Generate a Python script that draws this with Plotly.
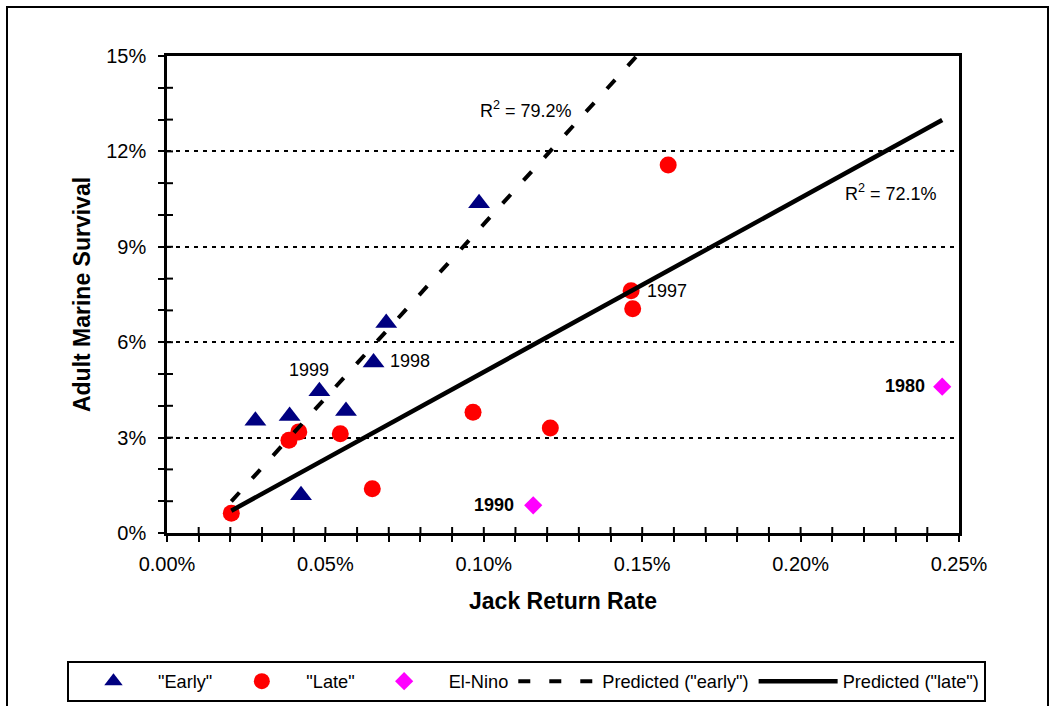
import numpy as np
import plotly.graph_objects as go

# ---- data (percent units) ----
early_x = [0.0279, 0.0387, 0.0481, 0.0565, 0.0423, 0.0652, 0.0692, 0.0985]
early_y = [3.53, 3.68, 4.46, 3.84, 1.19, 5.36, 6.60, 10.37]

late_x = [0.0203, 0.0385, 0.0416, 0.0547, 0.0648, 0.0966, 0.1210, 0.1465, 0.1470, 0.1582]
late_y = [0.62, 2.92, 3.18, 3.12, 1.39, 3.80, 3.30, 7.62, 7.05, 11.57]

nino_x = [0.1156, 0.2447]
nino_y = [0.87, 4.60]
nino_labels = ["1990", "1980"]

x_ticks = [0.00, 0.05, 0.10, 0.15, 0.20, 0.25]
x_tick_labels = ["0.00%", "0.05%", "0.10%", "0.15%", "0.20%", "0.25%"]
y_ticks = [0, 3, 6, 9, 12, 15]
y_tick_labels = ["0%", "3%", "6%", "9%", "12%", "15%"]
x_minor_step = 0.01
y_minor_step = 1

r2_early_text = "R<sup>2</sup> = 79.2%"
r2_late_text = "R<sup>2</sup> = 72.1%"

FONT = "Liberation Sans, Arial, sans-serif"

W, H = 1050, 706
ML, MR, MT, MB = 167, 91, 56, 173
PW, PH = W - ML - MR, H - MT - MB
TICK = 6

# regression (predicted) lines over full x span of the data
all_x = early_x + late_x + nino_x
xs = np.array([min(all_x), max(all_x)])
be, ae = np.polyfit(early_x, early_y, 1)
bl, al = np.polyfit(late_x, late_y, 1)

fig = go.Figure()
fig.add_trace(go.Scatter(x=early_x, y=early_y, mode="markers", name='"Early"',
                         marker=dict(symbol="triangle-up", size=19, color="#000080")))
fig.add_trace(go.Scatter(x=late_x, y=late_y, mode="markers", name='"Late"',
                         marker=dict(symbol="circle", size=17, color="#FF0000")))
fig.add_trace(go.Scatter(x=nino_x, y=nino_y, mode="markers", name="El-Nino",
                         marker=dict(symbol="diamond", size=14, color="#FF00FF")))
fig.add_trace(go.Scatter(x=xs, y=be * xs + ae, mode="lines", name='Predicted ("early")',
                         line=dict(color="black", width=4, dash="12px,19px")))
fig.add_trace(go.Scatter(x=xs, y=bl * xs + al, mode="lines", name='Predicted ("late")',
                         line=dict(color="black", width=4.5)))

tickfont = dict(family=FONT, size=20, color="black")
axis_common = dict(showline=True, linecolor="black", linewidth=2.5, zeroline=False,
                   ticks="outside", ticklen=TICK, tickwidth=2, tickcolor="black",
                   tickfont=tickfont, tickmode="array")

fig.update_layout(
    width=W, height=H,
    margin=dict(l=ML, r=MR, t=MT, b=MB, autoexpand=False),
    paper_bgcolor="white", plot_bgcolor="white",
    font=dict(family=FONT, color="black"),
    xaxis=dict(**axis_common, range=[0, 0.25], tickvals=x_ticks, ticktext=x_tick_labels,
               mirror=True, showgrid=False, ticklabelstandoff=5,
               minor=dict(ticks="outside", dtick=x_minor_step, ticklen=TICK, tickwidth=2,
                          tickcolor="black"),
               title=dict(text="Jack Return Rate", standoff=20,
                          font=dict(family=FONT, size=23, weight="bold", color="black"))),
    yaxis=dict(**axis_common, range=[0, 15], tickvals=y_ticks, ticktext=y_tick_labels,
               mirror=True, showgrid=True, gridcolor="black", gridwidth=2,
               griddash="4px,5px", ticklabelstandoff=8,
               minor=dict(ticks="outside", dtick=y_minor_step, ticklen=TICK, tickwidth=2,
                          tickcolor="black"),
               title=dict(text="Adult Marine Survival", standoff=10,
                          font=dict(family=FONT, size=23, weight="bold", color="black"))),
    legend=dict(orientation="h", x=-0.1263, xanchor="left", y=-0.268, yanchor="top",
                bordercolor="black", borderwidth=2, bgcolor="white",
                font=dict(family=FONT, size=18.2, color="black"),
                itemwidth=79, traceorder="normal"),
    showlegend=True,
)

ann_font = dict(family=FONT, size=18, color="black")
bold_font = dict(family=FONT, size=18, color="black", weight="bold")
annotations = [
    dict(x=0.1133, y=13.31, text=r2_early_text, showarrow=False, font=ann_font),
    dict(x=0.2285, y=10.72, text=r2_late_text, showarrow=False, font=ann_font),
    dict(x=late_x[7], y=late_y[7], text="1997", showarrow=False, font=ann_font,
         xanchor="left", xshift=14),
    dict(x=early_x[5], y=early_y[5], text="1998", showarrow=False, font=ann_font,
         xanchor="left", xshift=14, yshift=2),
    dict(x=early_x[2], y=early_y[2], text="1999", showarrow=False, font=ann_font,
         xanchor="center", xshift=-10, yshift=21),
    dict(x=nino_x[0], y=nino_y[0], text=nino_labels[0], showarrow=False, font=bold_font,
         xanchor="right", xshift=-17),
    dict(x=nino_x[1], y=nino_y[1], text=nino_labels[1], showarrow=False, font=bold_font,
         xanchor="right", xshift=-15, yshift=1),
]
for a in annotations:
    a.setdefault("xref", "x")
    a.setdefault("yref", "y")
fig.update_layout(annotations=annotations)

# inner half of the crossing tick marks (Excel style "cross" ticks)
x_lo, x_hi = x_ticks[0], x_ticks[-1]
n_xm = int(round((x_hi - x_lo) / x_minor_step))
for i in range(1, n_xm):
    v = x_lo + i * x_minor_step
    fig.add_shape(type="line", xref="x", yref="paper", x0=v, x1=v, y0=0, y1=TICK / PH,
                  line=dict(color="black", width=2), layer="above")
y_lo, y_hi = y_ticks[0], y_ticks[-1]
for v in range(y_lo + y_minor_step, y_hi, y_minor_step):
    fig.add_shape(type="line", yref="y", xref="paper", y0=v, y1=v, x0=0, x1=TICK / PW,
                  line=dict(color="black", width=2), layer="above")

# outer chart frame
fig.add_shape(type="rect", xref="paper", yref="paper",
              x0=(7 - ML) / PW, x1=(1048 - ML) / PW, y0=-0.40, y1=(H - MB - 7) / PH,
              line=dict(color="black", width=2), fillcolor="rgba(0,0,0,0)", layer="below")

fig.write_html("out.html")
